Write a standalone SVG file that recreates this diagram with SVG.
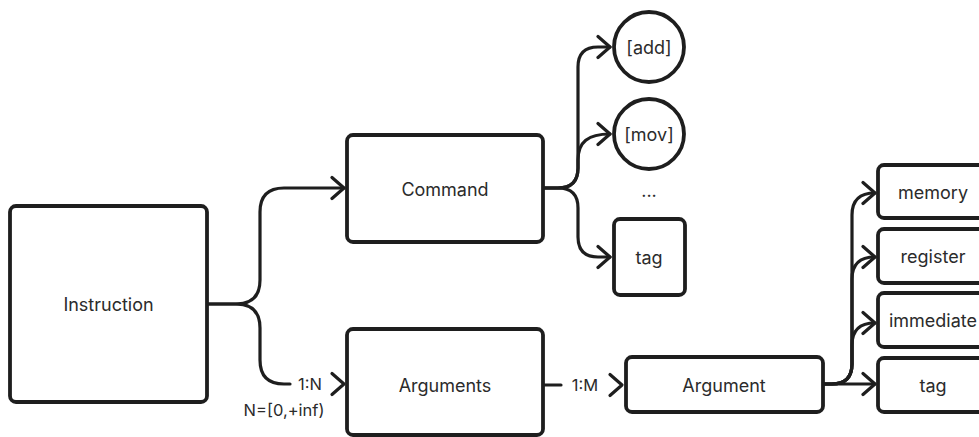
<svg xmlns="http://www.w3.org/2000/svg" width="979" height="437" viewBox="0 0 979 437">
  <defs>
    <style>
      .box { fill: #ffffff; stroke: #1e1e1e; stroke-width: 3.8; }
      .lbl { font-family: Inter, "Noto Sans", "Liberation Sans", sans-serif; font-size: 18px; fill: #2b2b2b; text-anchor: middle; dominant-baseline: central; }
      .small { font-size: 16.5px; }
      .conn { fill: none; stroke: #1e1e1e; stroke-width: 3.2; stroke-linecap: round; stroke-linejoin: round; }
    </style>
    <marker id="arr" viewBox="-15 -13 17 26" refX="0" refY="0" markerWidth="17" markerHeight="26" markerUnits="userSpaceOnUse" orient="auto">
      <path d="M-12,-10.5 L0,0 L-12,10.5" fill="none" stroke="#1e1e1e" stroke-width="3.2" stroke-linecap="round" stroke-linejoin="round"/>
    </marker>
  </defs>
  <rect width="979" height="437" fill="#ffffff"/>

  <g id="connectors">
    <path class="conn" d="M208,304 H236 Q260,304 260,280 V212 Q260,188 284,188 H344" marker-end="url(#arr)"/>
    <path class="conn" d="M208,304 H236 Q260,304 260,328 V360 Q260,384 284,384 H290"/>
    <path class="conn" d="M332,373.5 L344,384 L332,394.5"/>
    <path class="conn" d="M544,385 H561"/>
    <path class="conn" d="M610,374.5 L622,385 L610,395.5"/>
    <path class="conn" d="M544,188 H558 Q578,188 578,168 V67 Q578,47 598,47 H610" marker-end="url(#arr)"/>
    <path class="conn" d="M544,188 H558 Q578,188 578,168 V160 C578,142 588,134 610,134" marker-end="url(#arr)"/>
    <path class="conn" d="M544,188 H558 Q578,188 578,208 V237 Q578,257 598,257 H610" marker-end="url(#arr)"/>
    <path class="conn" d="M824,384 H875" marker-end="url(#arr)"/>
    <path class="conn" d="M824,384 H832 Q852,384 852,364 V345 Q852,323 875,323" marker-end="url(#arr)"/>
    <path class="conn" d="M824,384 H832 Q852,384 852,364 V279 Q852,257 875,257" marker-end="url(#arr)"/>
    <path class="conn" d="M824,384 H832 Q852,384 852,364 V215 Q852,193 875,193" marker-end="url(#arr)"/>
    <text class="lbl small" x="310" y="384">1:N</text>
    <text class="lbl small" x="284" y="410">N=[0,+inf)</text>
    <text class="lbl small" x="585" y="385">1:M</text>
  </g>

  <g id="instruction">
    <rect class="box" x="10" y="206" width="197" height="196" rx="6"/>
    <text class="lbl" x="108.5" y="304">Instruction</text>
  </g>
  <g id="command">
    <rect class="box" x="347" y="135" width="196" height="107" rx="6"/>
    <text class="lbl" x="445" y="189">Command</text>
  </g>
  <g id="arguments">
    <rect class="box" x="347" y="329" width="196" height="106" rx="6"/>
    <text class="lbl" x="445" y="385">Arguments</text>
  </g>
  <g id="add">
    <circle class="box" cx="649" cy="47" r="35"/>
    <text class="lbl" x="649" y="47">[add]</text>
  </g>
  <g id="mov">
    <circle class="box" cx="649" cy="134" r="35"/>
    <text class="lbl" x="649" y="134">[mov]</text>
  </g>
  <g id="ellipsis">
    <text class="lbl" x="649" y="190">...</text>
  </g>
  <g id="cmd-tag">
    <rect class="box" x="614" y="219" width="71" height="76" rx="6"/>
    <text class="lbl" x="649" y="257">tag</text>
  </g>
  <g id="argument">
    <rect class="box" x="626" y="357" width="197" height="55" rx="6"/>
    <text class="lbl" x="724" y="385">Argument</text>
  </g>
  <g id="memory">
    <rect class="box" x="878" y="165" width="115" height="53" rx="6"/>
    <text class="lbl" x="933" y="192">memory</text>
  </g>
  <g id="register">
    <rect class="box" x="878" y="229" width="115" height="54" rx="6"/>
    <text class="lbl" x="933" y="256">register</text>
  </g>
  <g id="immediate">
    <rect class="box" x="878" y="293" width="115" height="54" rx="6"/>
    <text class="lbl" x="933" y="320">immediate</text>
  </g>
  <g id="arg-tag">
    <rect class="box" x="878" y="358" width="115" height="54" rx="6"/>
    <text class="lbl" x="933" y="385">tag</text>
  </g>
</svg>
